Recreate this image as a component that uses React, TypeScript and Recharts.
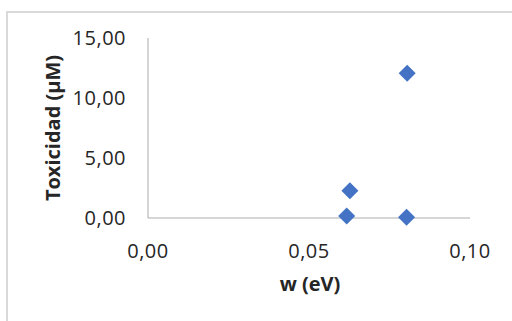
import { ScatterChart, Scatter, XAxis, YAxis } from 'recharts';

// w (eV) vs toxicidad (µM)
const wValues = [0.0617, 0.0627, 0.0805, 0.0803];
const toxValues = [0.17, 2.27, 12.06, 0.06];
const xTicks = [0, 0.05, 0.1];
const yTicks = [0, 5, 10, 15];

const data = wValues.map((w, i) => ({ w, tox: toxValues[i] }));

const FONT = '"Open Sans", sans-serif';
const TEXT = '#262626';
const comma = (v: number) => v.toFixed(2).replace('.', ',');

const Diamond = (props: any) => {
  const { cx, cy } = props;
  const r = 8.5;
  return (
    <polygon
      points={`${cx},${cy - r} ${cx + r},${cy} ${cx},${cy + r} ${cx - r},${cy}`}
      fill="#4472C4"
    />
  );
};

export default function App() {
  return (
    <div style={{ position: 'absolute', left: 0, top: 0, width: 512, height: 321, background: '#fff', overflow: 'hidden' }}>
      {/* chart frame, only top/left visible in the crop */}
      <div
        style={{
          position: 'absolute',
          left: 6,
          top: 11,
          width: 520,
          height: 330,
          borderTop: '2px solid #d9d9d9',
          borderLeft: '2px solid #d9d9d9',
        }}
      />
      <ScatterChart
        width={512}
        height={321}
        margin={{ top: 38, right: 42, bottom: 23, left: 0 }}
        style={{ position: 'absolute', left: 0, top: 0 }}
      >
        <XAxis
          type="number"
          dataKey="w"
          domain={[0, 0.1]}
          ticks={xTicks}
          tickFormatter={comma}
          height={80}
          tickLine={false}
          tickSize={0}
          tickMargin={26}
          stroke="#c8c8c8"
          strokeWidth={1.5}
          tick={{ fill: TEXT, fontSize: 20, fontFamily: FONT, letterSpacing: 0.5 }}
          label={{
            content: () => (
              <text x={310} y={291} textAnchor="middle" fill={TEXT} fontSize={20} fontWeight="bold" fontFamily={FONT}>
                w (eV)
              </text>
            ),
          }}
        />
        <YAxis
          type="number"
          dataKey="tox"
          domain={[0, 15]}
          ticks={yTicks}
          tickFormatter={comma}
          width={148}
          tickLine={false}
          tickSize={0}
          tickMargin={22}
          stroke="#aaaaaa"
          tick={{ fill: TEXT, fontSize: 20, fontFamily: FONT, letterSpacing: 0.5 }}
          label={{
            content: () => (
              <text
                x={60}
                y={128}
                transform="rotate(-90, 60, 128)"
                textAnchor="middle"
                fill={TEXT}
                fontSize={20}
                fontWeight="bold"
                fontFamily={FONT}
              >
                Toxicidad (µM)
              </text>
            ),
          }}
        />
        <Scatter data={data} shape={<Diamond />} isAnimationActive={false} />
      </ScatterChart>
    </div>
  );
}
